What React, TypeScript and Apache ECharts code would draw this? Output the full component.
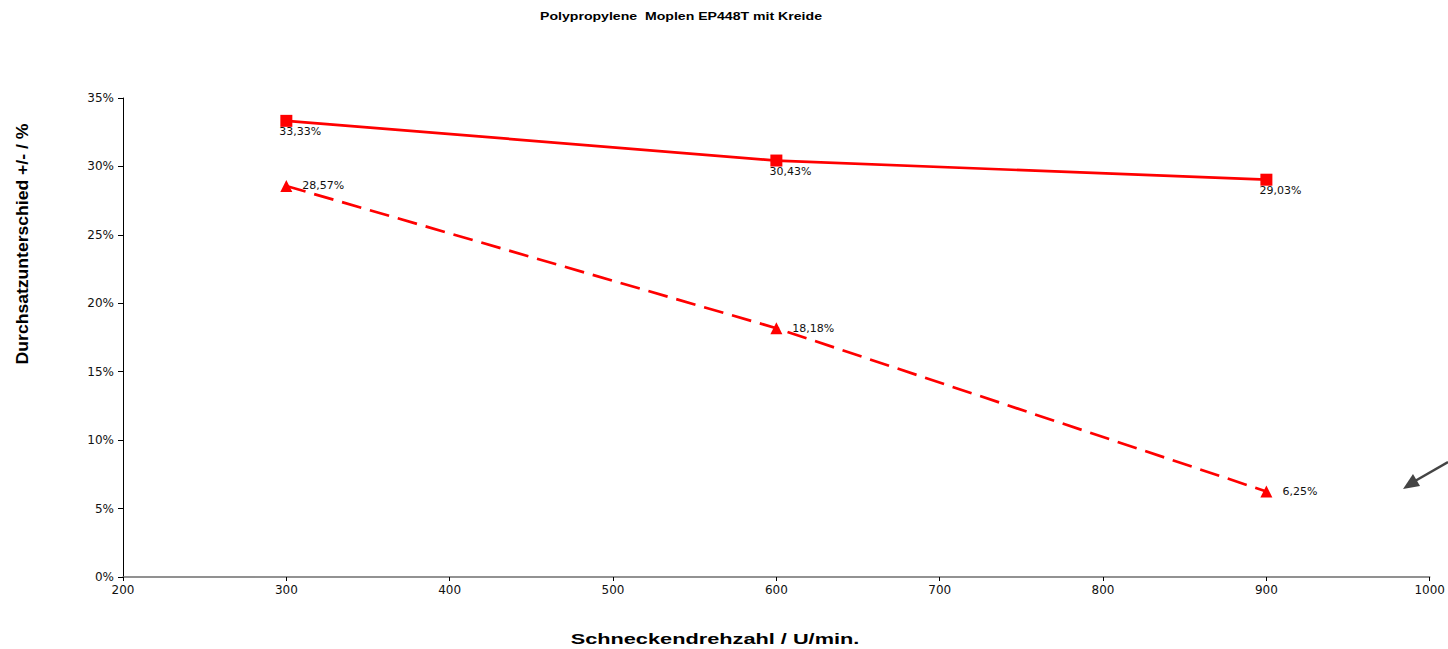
import React, { useEffect, useRef } from "react";
import * as echarts from "echarts";

const xValues = [300, 600, 900];
const seriesSolid = [33.33, 30.43, 29.03];
const seriesDashed = [28.57, 18.18, 6.25];
const titleText = "Polypropylene  Moplen EP448T mit Kreide";
const xAxisName = "Schneckendrehzahl / U/min.";
const yAxisName = "Durchsatzunterschied +/- / %";

const fmt = (v: number) => v.toFixed(2).replace(".", ",") + "%";

export default function App() {
  const ref = useRef<HTMLDivElement>(null);
  useEffect(() => {
    const chart = echarts.init(ref.current!, null, { renderer: "svg" });
    const font = "Liberation Sans, Arial, sans-serif";
    const lblFont = "DejaVu Sans, sans-serif";
    chart.setOption({
      animation: false,
      backgroundColor: "#fff",
      grid: { left: 123, right: 17, top: 98, bottom: 72 },
      xAxis: {
        type: "value",
        min: 200,
        max: 1000,
        interval: 100,
        axisLine: { lineStyle: { color: "#6e6e6e", width: 1.5 } },
        axisTick: { show: true, length: 4, lineStyle: { color: "#000" } },
        axisLabel: { fontFamily: lblFont, fontSize: 12, color: "#111", margin: 7, formatter: (v: number) => String(v) },
        splitLine: { show: false },
      },
      yAxis: {
        type: "value",
        min: 0,
        max: 35,
        interval: 5,
        axisLine: { show: true, lineStyle: { color: "#000", width: 1 } },
        axisTick: { show: true, length: 5, lineStyle: { color: "#000" } },
        axisLabel: { fontFamily: lblFont, fontSize: 12, color: "#111", margin: 9, formatter: "{value}%" },
        splitLine: { show: false },
      },
      series: [
        {
          type: "line",
          data: xValues.map((x, i) => [x, seriesSolid[i]]),
          symbol: "rect",
          symbolSize: 12,
          itemStyle: { color: "#ff0000" },
          lineStyle: { color: "#ff0000", width: 2.7 },
          label: {
            show: true,
            position: "bottom",
            distance: 0,
            offset: [14, -1],
            formatter: (p: any) => fmt(p.value[1]),
            fontFamily: lblFont,
            fontSize: 11,
            color: "#111",
          },
        },
        {
          type: "line",
          data: xValues.map((x, i) => [x, seriesDashed[i]]),
          symbol: "triangle",
          symbolSize: 12,
          itemStyle: { color: "#ff0000" },
          lineStyle: { color: "#ff0000", width: 2.7, type: [20, 9] },
          label: {
            show: true,
            position: "right",
            distance: 10,
            formatter: (p: any) => fmt(p.value[1]),
            fontFamily: lblFont,
            fontSize: 11,
            color: "#111",
          },
        },
      ],
      graphic: [
        {
          type: "text",
          x: 681,
          y: 17,
          scaleX: 1.41,
          style: {
            text: titleText,
            font: "bold 10px " + font,
            fill: "#000",
            align: "center",
            verticalAlign: "middle",
          },
        },
        {
          type: "text",
          x: 715,
          y: 639,
          scaleX: 1.45,
          style: {
            text: xAxisName,
            font: "bold 15px " + font,
            fill: "#000",
            align: "center",
            verticalAlign: "middle",
          },
        },
        {
          type: "text",
          x: 23,
          y: 244,
          rotation: Math.PI / 2,
          scaleX: 1.1,
          style: {
            text: yAxisName,
            font: "bold 16px " + font,
            fill: "#000",
            align: "center",
            verticalAlign: "middle",
          },
        },
        {
          type: "line",
          shape: { x1: 1448, y1: 462, x2: 1415, y2: 481 },
          style: { stroke: "#444", lineWidth: 2.5 },
        },
        {
          type: "polygon",
          shape: { points: [[1403, 489], [1413, 474], [1420, 486]] },
          style: { fill: "#444" },
        },
      ],
    });
    return () => chart.dispose();
  }, []);
  return <div ref={ref} style={{ width: 1448, height: 649, position: "absolute", left: 0, top: 0 }} />;
}
